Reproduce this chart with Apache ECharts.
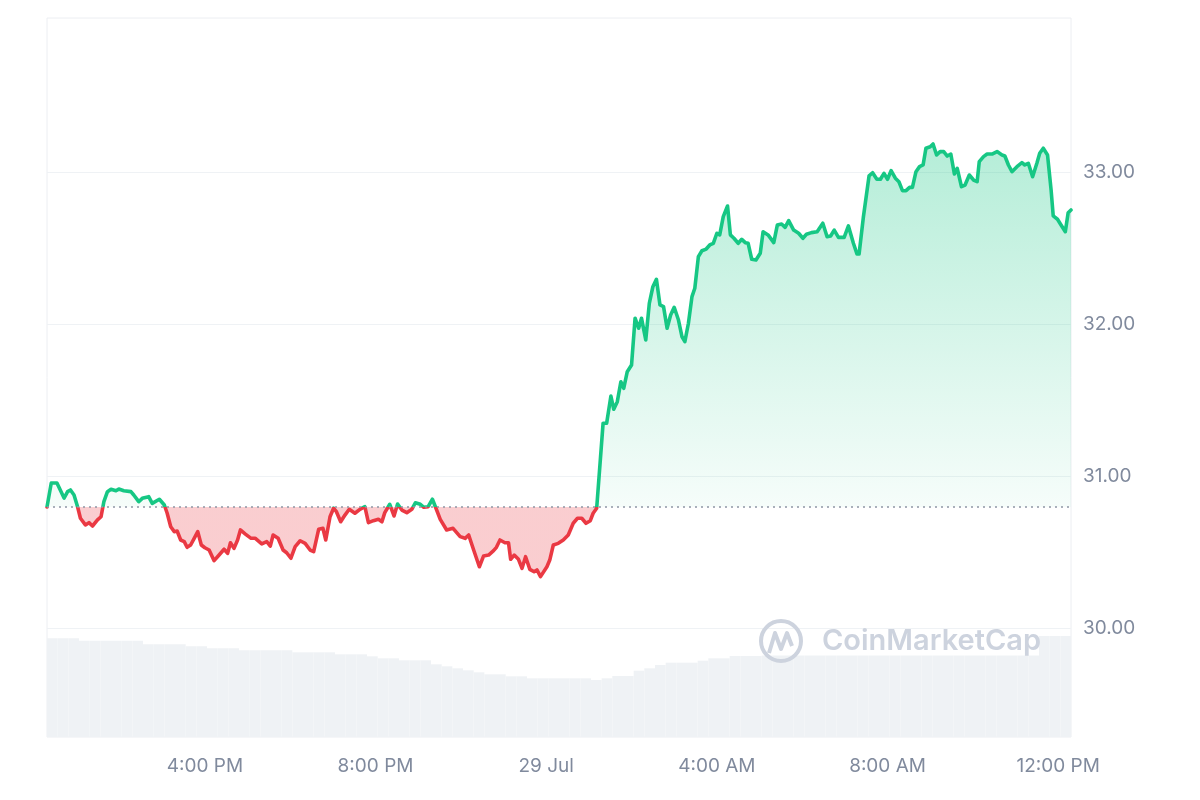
<!DOCTYPE html>
<html>
<head>
<meta charset="utf-8">
<script src="https://cdn.jsdelivr.net/npm/echarts/dist/echarts.min.js"></script>
<style>
  html, body { margin: 0; padding: 0; background: #ffffff; }
  #chart { width: 1200px; height: 800px; }
</style>
</head>
<body>
<div id="chart"></div>
<script>
// ---- DATA ----
// time: minutes after 12:00 PM, 28 Jul
const times = [
  18, 24, 32, 42, 47, 51, 56, 61, 65, 72,
  77, 82, 89, 94, 98, 103, 108, 115, 119, 126,
  136, 140, 147, 152, 161, 166, 176, 183, 187, 192,
  197, 201, 206, 211, 215, 220, 225, 230, 235, 240,
  246, 253, 260, 267, 272, 276, 281, 286, 290, 297,
  305, 311, 320, 327, 332, 336, 343, 350, 355, 361,
  367, 374, 381, 388, 393, 400, 406, 410, 416, 421,
  425, 431, 437, 443, 451, 458, 465, 470, 477, 484,
  489, 493, 500, 506, 511, 517, 524, 531, 536, 543,
  548, 554, 560, 565, 571, 580, 589, 599, 606, 611,
  618, 626, 632, 639, 646, 650, 655, 662, 667, 670,
  675, 681, 686, 691, 697, 703, 707, 712, 721, 725,
  730, 737, 744, 751, 758, 764, 770, 776, 782, 786,
  791, 800, 805, 811, 815, 820, 825, 829, 834, 840,
  845, 850, 854, 860, 865, 870, 875, 880, 885, 890,
  895, 900, 906, 911, 915, 920, 925, 929, 934, 939,
  945, 950, 955, 960, 964, 969, 975, 979, 984, 990,
  995, 1000, 1004, 1009, 1015, 1021, 1025, 1032, 1040, 1045,
  1051, 1056, 1061, 1068, 1075, 1081, 1086, 1093, 1101, 1109,
  1115, 1120, 1125, 1131, 1139, 1145, 1152, 1157, 1160, 1166,
  1174, 1179, 1185, 1190, 1195, 1200, 1205, 1211, 1216, 1221,
  1226, 1231, 1235, 1240, 1245, 1250, 1254, 1260, 1264, 1269,
  1274, 1279, 1284, 1289, 1294, 1298, 1304, 1309, 1315, 1321,
  1326, 1329, 1335, 1340, 1347, 1354, 1361, 1365, 1370, 1375,
  1382, 1389, 1393, 1398, 1404, 1410, 1414, 1419, 1425, 1430,
  1433, 1439, 1444, 1450, 1454, 1458
];
const prices = [
  30.796, 30.954, 30.954, 30.855, 30.897, 30.908, 30.875, 30.798, 30.722, 30.678,
  30.693, 30.671, 30.711, 30.732, 30.831, 30.897, 30.913, 30.903, 30.914, 30.903,
  30.897, 30.875, 30.831, 30.853, 30.864, 30.820, 30.847, 30.809, 30.755, 30.666,
  30.634, 30.638, 30.579, 30.568, 30.531, 30.546, 30.590, 30.634, 30.546, 30.528,
  30.513, 30.443, 30.480, 30.518, 30.491, 30.561, 30.524, 30.579, 30.645, 30.618,
  30.590, 30.590, 30.553, 30.568, 30.539, 30.612, 30.590, 30.513, 30.495, 30.459,
  30.535, 30.574, 30.557, 30.513, 30.502, 30.649, 30.656, 30.579, 30.732, 30.788,
  30.765, 30.699, 30.743, 30.781, 30.755, 30.781, 30.798, 30.693, 30.706, 30.715,
  30.699, 30.759, 30.814, 30.737, 30.816, 30.776, 30.759, 30.781, 30.824, 30.814,
  30.794, 30.798, 30.847, 30.788, 30.715, 30.645, 30.656, 30.601, 30.590, 30.612,
  30.513, 30.403, 30.474, 30.480, 30.509, 30.531, 30.579, 30.561, 30.561, 30.452,
  30.480, 30.452, 30.393, 30.469, 30.386, 30.370, 30.382, 30.338, 30.403, 30.447,
  30.546, 30.557, 30.579, 30.612, 30.689, 30.722, 30.722, 30.689, 30.706, 30.755,
  30.788, 31.347, 31.347, 31.526, 31.439, 31.489, 31.620, 31.577, 31.686, 31.730,
  32.038, 31.972, 32.038, 31.895, 32.136, 32.245, 32.294, 32.125, 32.114, 31.972,
  32.059, 32.110, 32.026, 31.916, 31.884, 32.005, 32.180, 32.235, 32.443, 32.482,
  32.493, 32.520, 32.531, 32.597, 32.586, 32.706, 32.776, 32.586, 32.564, 32.531,
  32.557, 32.535, 32.531, 32.426, 32.421, 32.465, 32.607, 32.586, 32.535, 32.651,
  32.658, 32.636, 32.680, 32.618, 32.597, 32.564, 32.590, 32.601, 32.607, 32.663,
  32.574, 32.579, 32.618, 32.570, 32.570, 32.645, 32.531, 32.461, 32.461, 32.702,
  32.974, 32.995, 32.952, 32.952, 32.991, 32.952, 33.009, 32.959, 32.936, 32.877,
  32.877, 32.899, 32.899, 33.002, 33.035, 33.046, 33.156, 33.166, 33.184, 33.112,
  33.134, 33.134, 33.105, 33.118, 32.987, 33.024, 32.903, 32.914, 32.980, 32.947,
  32.936, 33.068, 33.101, 33.118, 33.118, 33.134, 33.112, 33.105, 33.046, 33.002,
  33.035, 33.061, 33.046, 33.057, 32.969, 33.057, 33.123, 33.156, 33.112, 32.882,
  32.711, 32.689, 32.651, 32.607, 32.732, 32.750
];
const openPrice = 30.796;

// volume bars, one every 15 minutes starting 12:25 PM (arbitrary units)
const volStart = 25.5;
const volStep = 15;
const volumes = [
  98.7, 98.7, 98.7, 96.3, 96.3, 96.3, 96.3, 96.3, 96.3, 92.7,
  92.7, 92.7, 92.7, 90.7, 90.7, 88.7, 88.7, 88.7, 86.7, 86.7,
  86.7, 86.7, 86.7, 84.7, 84.7, 84.7, 84.7, 82.7, 82.7, 82.7,
  80.7, 78.7, 78.7, 76.7, 76.7, 76.7, 72.7, 70.7, 68.7, 66.7,
  64.7, 62.7, 62.7, 60.7, 60.7, 58.7, 58.7, 58.7, 58.7, 58.7,
  58.7, 57.0, 58.7, 61.0, 61.0, 66.3, 68.7, 72.0, 74.3, 74.3,
  74.3, 76.3, 78.7, 78.7, 81.0, 81.0, 81.0, 81.5, 81.5, 81.5,
  81.5, 81.5, 81.5, 81.5, 81.5, 81.5, 81.5, 81.5, 81.5, 81.5,
  81.5, 81.5, 81.5, 81.5, 81.5, 81.5, 81.5, 81.5, 81.5, 81.5,
  81.5, 81.5, 81.5, 101.0, 101.0, 101.0
];

const xTickValues = [240, 480, 720, 960, 1200, 1440];
const xTickLabels = ['4:00 PM', '8:00 PM', '29 Jul', '4:00 AM', '8:00 AM', '12:00 PM'];
const yTickValues = [30, 31, 32, 33];

// ---- CHART ----
const GREEN = '#16c784';
const RED = '#ea3943';
const LABEL_COLOR = '#808a9d';
const FONT = 'Inter, "Noto Sans", sans-serif';

const priceData = times.map((t, i) => [t, prices[i]]);
const volData = volumes.map((v, i) => [volStart + i * volStep, v]);

const chart = echarts.init(document.getElementById('chart'), null, { renderer: 'canvas' });

const gridTop = 18, gridBottomPx = 737;
const yMin = 29.283, yMax = 34.013;
const basePx = gridBottomPx - (openPrice - yMin) / (yMax - yMin) * (gridBottomPx - gridTop);
const baseFrac = (basePx - gridTop) / (gridBottomPx - gridTop);

const areaGradient = new echarts.graphic.LinearGradient(0, gridTop, 0, gridBottomPx, [
  { offset: 0, color: 'rgba(22,199,132,0.36)' },
  { offset: 0.17, color: 'rgba(22,199,132,0.32)' },
  { offset: baseFrac, color: 'rgba(22,199,132,0.04)' },
  { offset: baseFrac + 0.0005, color: 'rgba(234,57,67,0.25)' },
  { offset: 1, color: 'rgba(234,57,67,0.25)' }
], true);

const wm = '#cdd3de';

const option = {
  animation: false,
  backgroundColor: '#ffffff',
  grid: {
    left: 47, right: 129, top: gridTop, bottom: 800 - gridBottomPx,
    show: true, borderColor: '#eceef2', borderWidth: 1
  },
  xAxis: {
    type: 'value', min: 18, max: 1458,
    axisLine: { show: false },
    axisTick: { show: false, customValues: xTickValues },
    splitLine: { show: false },
    axisLabel: {
      customValues: xTickValues,
      formatter: v => xTickLabels[xTickValues.indexOf(v)],
      color: LABEL_COLOR, fontSize: 19, fontFamily: FONT, margin: 20
    }
  },
  yAxis: [
    {
      type: 'value', position: 'right', min: yMin, max: yMax,
      axisLine: { show: false },
      axisTick: { show: false, customValues: yTickValues },
      splitLine: { show: true, lineStyle: { color: '#eff2f5', width: 1 } },
      axisLabel: {
        customValues: yTickValues,
        formatter: v => v.toFixed(2),
        color: LABEL_COLOR, fontSize: 19, fontFamily: FONT, margin: 12
      }
    },
    { type: 'value', min: 0, max: 719, show: false }
  ],
  visualMap: {
    type: 'piecewise', show: false, seriesIndex: 1, dimension: 1,
    pieces: [
      { gt: 0, lte: openPrice, color: RED },
      { gt: openPrice, lte: 100, color: GREEN }
    ],
    outOfRange: { color: GREEN }
  },
  series: [
    {
      type: 'bar', name: 'Volume', xAxisIndex: 0, yAxisIndex: 1,
      data: volData, barWidth: 10.7, silent: true, z: 1,
      itemStyle: { color: '#eff2f5' }
    },
    {
      type: 'line', name: 'Price', xAxisIndex: 0, yAxisIndex: 0,
      data: priceData, showSymbol: false, smooth: false, z: 3,
      lineStyle: { width: 3.6, join: 'round', cap: 'round' },
      areaStyle: { origin: openPrice, color: areaGradient, opacity: 1 },
      markLine: {
        silent: true, symbol: ['none', 'none'],
        label: { show: false },
        lineStyle: { type: [2, 4], color: '#8f96a5', width: 1.6 },
        data: [{ yAxis: openPrice }]
      }
    }
  ],
  graphic: [
    { type: 'circle', z: 10, silent: true,
      shape: { cx: 781, cy: 641, r: 20 },
      style: { fill: 'none', stroke: wm, lineWidth: 4 } },
    { type: 'polyline', z: 10, silent: true,
      shape: { points: [[769, 653], [775, 633], [781, 649], [787, 633], [792, 646]] },
      style: { fill: 'none', stroke: wm, lineWidth: 4, lineJoin: 'round' } },
    { type: 'text', z: 10, silent: true,
      style: { x: 822, y: 641, text: 'CoinMarketCap', verticalAlign: 'middle',
               font: '600 29px Inter, "Noto Sans", sans-serif', fill: wm } }
  ]
};

chart.setOption(option);
</script>
</body>
</html>
